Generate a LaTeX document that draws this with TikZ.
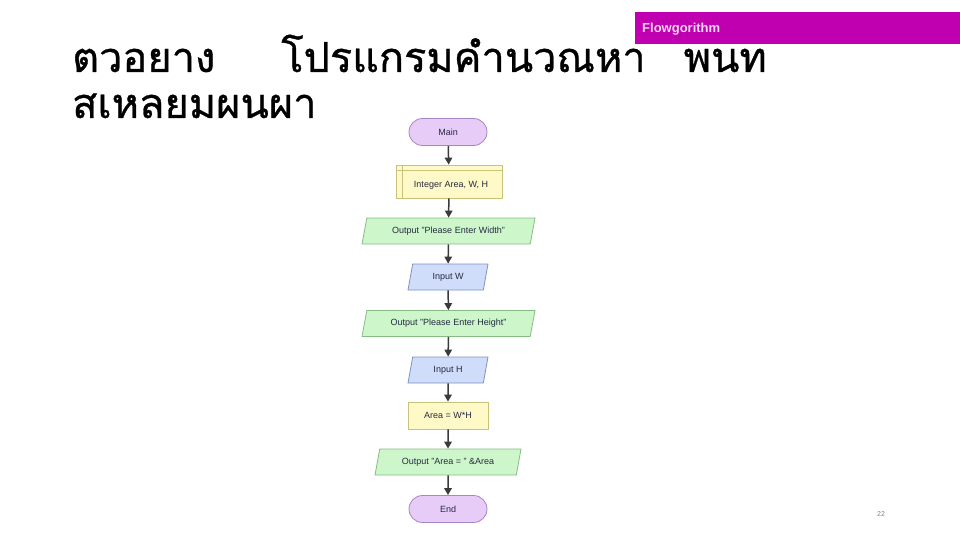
\documentclass[tikz,border=0pt]{standalone}
\usepackage{fontspec}
\setmainfont{Liberation Sans}
\newfontfamily\thaifont[Script=Thai,FakeBold=0.8]{Loma}
\usetikzlibrary{shapes.geometric,shapes.misc,arrows.meta}
\definecolor{barmag}{HTML}{C000B0}
\definecolor{bartxt}{HTML}{F2D8F0}
\definecolor{pillfill}{HTML}{E8CCF8}
\definecolor{pilldraw}{HTML}{A585C5}
\definecolor{yelfill}{HTML}{FFF9C8}
\definecolor{yeldraw}{HTML}{C9C27A}
\definecolor{grnfill}{HTML}{CDF7CB}
\definecolor{grndraw}{HTML}{86BC84}
\definecolor{blufill}{HTML}{CFDDFB}
\definecolor{bludraw}{HTML}{7F93C2}
\definecolor{fctext}{HTML}{262A40}
\definecolor{arrowc}{HTML}{3A3A3A}
\tikzset{
  fcbase/.style={font=\fontsize{9}{10}\selectfont, text=fctext, line width=0.8pt, inner sep=1pt},
  pill/.style={fcbase, rounded rectangle, fill=pillfill, draw=pilldraw, minimum width=80pt, minimum height=27pt},
  procbox/.style={fcbase, rectangle, fill=yelfill, draw=yeldraw, minimum width=80pt, minimum height=27pt},
  outbox/.style={fcbase, trapezium, trapezium left angle=65, trapezium right angle=115, trapezium stretches body, fill=grnfill, draw=grndraw, minimum height=26pt},
  inbox/.style={fcbase, trapezium, trapezium left angle=65, trapezium right angle=115, trapezium stretches body, fill=blufill, draw=bludraw, minimum height=26pt, minimum width=80pt},
  flowarrow/.style={draw=arrowc, line width=1.5pt, -{Triangle[length=7pt,width=7.5pt]}},
}
\begin{document}
\begin{tikzpicture}[x=1pt,y=-1pt]
\useasboundingbox (0,0) rectangle (960,540);
\fill[white] (0,0) rectangle (960,540);
% top bar
\fill[barmag] (635,12) rectangle (960,44);
\node[anchor=base west, inner sep=0, font=\bfseries\fontsize{13}{15}\selectfont, text=bartxt] (brand) at (642,33) {Flowgorithm};
% title
\node[anchor=base west, inner sep=0, font=\thaifont\fontsize{41.5}{46}\selectfont] (t1) at (72,72) {ตวอยาง\hspace{66pt}โปรแกรมคำนวณหา\hspace{38pt}พนท};
\node[anchor=base west, inner sep=0, font=\thaifont\fontsize{41.5}{46}\selectfont] (t2) at (72,118) {สเหลยมผนผา};
% flowchart
\node[pill] (main) at (448,132) {Main};
\node[procbox, minimum width=106pt, minimum height=33pt] (decl) at (449,181.5) {};
\draw[yeldraw, line width=0.8pt] ([xshift=7pt]decl.north west) -- ([xshift=7pt]decl.south west);
\draw[yeldraw, line width=0.8pt] ([yshift=-6pt]decl.north west) -- ([yshift=-6pt]decl.north east);
\node[fcbase] (decltxt) at ([xshift=2pt,yshift=-3.5pt]decl.center) {Integer Area, W, H};
\node[outbox, minimum width=173pt] (out1) at (448.5,231) {Output "Please Enter Width"};
\node[inbox] (inw) at (448,277) {Input W};
\node[outbox, minimum width=173pt] (out2) at (448.5,323.5) {Output "Please Enter Height"};
\node[inbox] (inh) at (448,370) {Input H};
\node[procbox] (area) at (448,415.5) {Area = W*H};
\node[outbox, minimum width=146pt] (out3) at (448,462) {Output "Area = " \&Area};
\node[pill] (endn) at (448,509) {End};
\draw[flowarrow] (main) -- (decl);
\draw[flowarrow] (decl) -- (out1);
\draw[flowarrow] (out1) -- (inw);
\draw[flowarrow] (inw) -- (out2);
\draw[flowarrow] (out2) -- (inh);
\draw[flowarrow] (inh) -- (area);
\draw[flowarrow] (area) -- (out3);
\draw[flowarrow] (out3) -- (endn);
% page number
\node[font=\fontsize{7}{8}\selectfont, text=gray] (pg) at (881,514) {22};
\end{tikzpicture}
\end{document}
